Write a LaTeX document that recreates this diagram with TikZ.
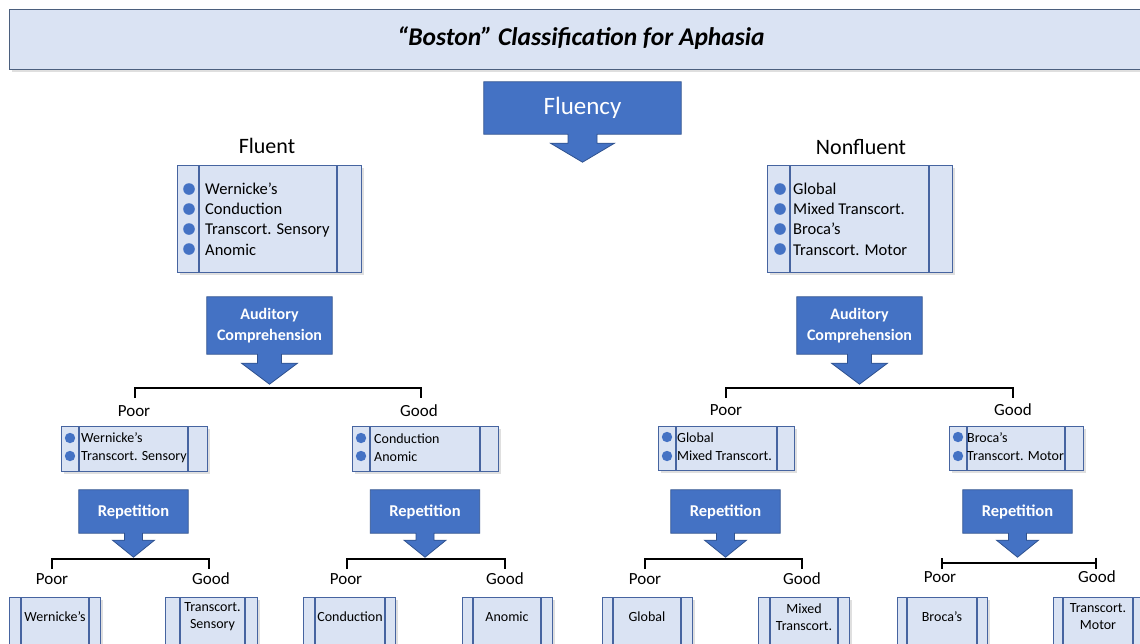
\documentclass[tikz,border=0pt]{standalone}
\usepackage{fontspec}
\setmainfont{Carlito}
\usetikzlibrary{calc,shadows,arrows.meta}
\pgfdeclarelayer{bg}
\pgfsetlayers{bg,main}
\definecolor{boxfill}{RGB}{218,227,243}
\definecolor{boxline}{RGB}{70,100,160}
\definecolor{titleline}{RGB}{75,95,125}
\definecolor{callblue}{RGB}{68,114,196}
\definecolor{callline}{RGB}{47,82,143}
\newcommand\callarrow[5]{%
\begin{pgfonlayer}{bg}
\draw[callfill] (#1.north west) -- (#1.north east) -- (#1.south east)
 -- ($(#1.south)+(#2,0)$) -- ($(#1.south)+(#2,#3)$) -- ($(#1.south)+(#4,#3)$)
 -- ($(#1.south)+(0,#3+#5)$) -- ($(#1.south)+(-#4,#3)$) -- ($(#1.south)+(-#2,#3)$)
 -- ($(#1.south)+(-#2,0)$) -- (#1.south west) -- cycle;
\end{pgfonlayer}}
\newcommand\listbox[7]{%
\node[box, minimum width={#4-#2}, minimum height={#5-#3}, anchor=north west] (#1) at (#2,#3) {};
\draw[innerline] ([xshift={#6-#2}]#1.north west) -- ([xshift={#6-#2}]#1.south west);
\draw[innerline] ([xshift={#7-#2}]#1.north west) -- ([xshift={#7-#2}]#1.south west);
}
\newcommand\leafbox[6]{%
\listbox{#1}{#2}{597}{#3}{660}{#4}{#5}
\node[leaftext] (#1t) at ({(#4+#5)/2},617) {#6};
}
\begin{document}
\begin{tikzpicture}[x=1pt,y=-1pt,
  box/.style={draw=boxline, fill=boxfill, line width=1.2pt, inner sep=0pt,
    drop shadow={opacity=0.25, shadow xshift=2pt, shadow yshift=-2pt}},
  innerline/.style={draw=boxline, line width=1.2pt},
  callfill/.style={draw=callline, fill=callblue, line width=0.8pt, line join=miter},
  calltext/.style={text=white, align=center, inner sep=0pt},
  audtext/.style={calltext, font=\fontsize{16}{21}\selectfont\bfseries, minimum width=125pt, minimum height=57pt},
  reptext/.style={calltext, font=\fontsize{16.5}{18}\selectfont\bfseries, minimum width=109pt, minimum height=43pt},
  lbl/.style={font=\fontsize{17}{20}\selectfont, inner sep=0pt},
  headlbl/.style={font=\fontsize{22}{24}\selectfont, inner sep=0pt},
  listtext/.style={font=\fontsize{16.5}{20.3}\selectfont, align=left, inner sep=0pt, anchor=west},
  midtext/.style={font=\fontsize{14}{18}\selectfont, align=left, inner sep=0pt, anchor=west},
  leaftext/.style={font=\fontsize{14}{17}\selectfont, align=center, inner sep=0pt},
  bullet/.style={fill=callblue},
  bracket/.style={line width=1.8pt, black}
]
\useasboundingbox (0,0) rectangle (1140,643);
\clip (0,0) rectangle (1140,643);

% title
\node[box, draw=titleline, minimum width=1140pt, minimum height=60pt, anchor=north west] (title) at (9,9) {};
\node[font=\fontsize{25.5}{28}\selectfont\bfseries\itshape, inner sep=0pt] (titletext) at (581,38) {“Boston” Classification for Aphasia};

% fluency
\node[calltext, minimum width=197pt, minimum height=52pt, font=\fontsize{25}{28}\selectfont] (fluency) at (582.5,108) {Fluency};
\callarrow{fluency}{14.5}{9}{32}{19}

\node[headlbl] (fluent) at (267,146) {Fluent};
\node[headlbl] (nonfluent) at (861,147) {Nonfluent};

% top list boxes
\listbox{flbox}{177}{165}{361}{272}{199}{337}
\node[listtext] (fltext) at (205,219) {Wernicke’s\\Conduction\\Transcort. Sensory\\Anomic};
\foreach \y in {189,209,229,249} \fill[bullet] (189,\y) circle (5.8pt);

\listbox{nfbox}{767}{165}{952}{272}{790}{929}
\node[listtext] (nftext) at (793,219) {Global\\Mixed Transcort.\\Broca’s\\Transcort. Motor};
\foreach \y in {189,209,229,249} \fill[bullet] (780,\y) circle (5.8pt);

% auditory comprehension
\node[audtext] (audL) at (269.5,325.5) {Auditory\\Comprehension};
\callarrow{audL}{12}{9}{28}{21}
\node[audtext] (audR) at (859.5,325.5) {Auditory\\Comprehension};
\callarrow{audR}{12}{9}{28}{21}

% level 1 brackets
\coordinate (b1a) at (135,398); \coordinate (b1b) at (421,398);
\draw[bracket] (b1a) -- ++(0,-10) -| (b1b);
\coordinate (b1c) at (726,398); \coordinate (b1d) at (1013,398);
\draw[bracket] (b1c) -- ++(0,-10) -| (b1d);
\node[lbl] (p1a) at (134,411) {Poor};
\node[lbl] (g1a) at (419,411) {Good};
\node[lbl] (p1b) at (726,410) {Poor};
\node[lbl] (g1b) at (1013,410) {Good};

% level 2 boxes
\listbox{m1}{61}{426}{207}{471}{79}{188}
\node[midtext] (m1t) at (81,448) {Wernicke’s\\Transcort. Sensory};
\foreach \y in {438,456} \fill[bullet] (70,\y) circle (5.2pt);
\listbox{m2}{352}{426}{498}{471}{370}{480}
\node[midtext] (m2t) at (374,448) {Conduction\\Anomic};
\foreach \y in {438,456} \fill[bullet] (361,\y) circle (5.2pt);
\listbox{m3}{658}{426}{794}{470}{676}{777}
\node[midtext] (m3t) at (677,447) {Global\\Mixed Transcort.};
\foreach \y in {437,456} \fill[bullet] (667,\y) circle (5.2pt);
\listbox{m4}{949}{426}{1083}{470}{967}{1065}
\node[midtext] (m4t) at (967,447) {Broca’s\\Transcort. Motor};
\foreach \y in {437,456} \fill[bullet] (958,\y) circle (5.2pt);

% repetition
\node[reptext] (r1) at (133.5,511.5) {Repetition};
\callarrow{r1}{9}{7}{21}{17}
\node[reptext] (r2) at (425,511.5) {Repetition};
\callarrow{r2}{9}{7}{21}{17}
\node[reptext] (r3) at (725.5,511.5) {Repetition};
\callarrow{r3}{9}{7}{21}{17}
\node[reptext] (r4) at (1017.5,511.5) {Repetition};
\callarrow{r4}{9}{7}{21}{17}

% level 3 brackets
\coordinate (c1a) at (52,569); \coordinate (c1b) at (209,569);
\draw[bracket] (c1a) -- ++(0,-10) -| (c1b);
\coordinate (c2a) at (347,569); \coordinate (c2b) at (505,569);
\draw[bracket] (c2a) -- ++(0,-10) -| (c2b);
\coordinate (c3a) at (645,569); \coordinate (c3b) at (802,569);
\draw[bracket] (c3a) -- ++(0,-10) -| (c3b);
\coordinate (c4a) at (941,563); \coordinate (c4b) at (1097,563);
\draw[bracket, {Bar[width=11pt,line width=1.8pt]}-{Bar[width=11pt,line width=1.8pt]}] (c4a) -- (c4b);

\node[lbl] (p3a) at (52,579) {Poor};
\node[lbl] (g3a) at (211,579) {Good};
\node[lbl] (p3b) at (346,579) {Poor};
\node[lbl] (g3b) at (505,579) {Good};
\node[lbl] (p3c) at (645,579) {Poor};
\node[lbl] (g3c) at (802,579) {Good};
\node[lbl] (p3d) at (940,577) {Poor};
\node[lbl] (g3d) at (1097,577) {Good};

% leaves
\leafbox{l1}{9}{100}{21}{89}{Wernicke’s}
\leafbox{l2}{165}{257}{180}{245}{Transcort.\\Sensory}
\leafbox{l3}{303}{395}{315}{385}{Conduction}
\leafbox{l4}{462}{552}{473}{541}{Anomic}
\leafbox{l5}{602}{692}{613}{681}{Global}
\leafbox{l6}{758}{849}{770}{838}{Mixed\\Transcort.}
\leafbox{l7}{897}{987}{907}{977}{Broca’s}
\leafbox{l8}{1053}{1143}{1063}{1133}{Transcort.\\Motor}
\end{tikzpicture}
\end{document}
